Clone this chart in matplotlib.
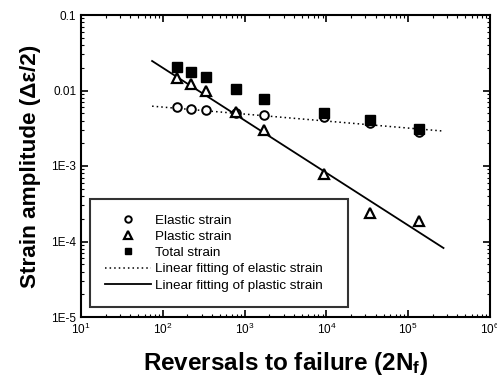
import matplotlib
matplotlib.use("Agg")
import matplotlib.pyplot as plt
from matplotlib.ticker import LogLocator, FixedLocator, FixedFormatter, NullFormatter

plt.rcParams['font.family'] = ['Liberation Sans', 'DejaVu Sans']
plt.rcParams['mathtext.default'] = 'regular'

# reversals to failure
reversals = [149, 221, 337, 785, 1726, 9350, 34100, 135000]
elastic = [0.0060, 0.0057, 0.0055, 0.0050, 0.0047, 0.0044, 0.0037, 0.0028]
plastic = [0.0147, 0.0122, 0.0098, 0.0052, 0.0030, 0.00078, 0.00024, 0.000186]
total = [0.0205, 0.0176, 0.0151, 0.0105, 0.0077, 0.0050, 0.0041, 0.0031]

# fitted lines (end points)
fit_x = [74, 270000]
elastic_fit = [0.0062, 0.0029]
plastic_fit = [0.0246, 0.000082]

y_ticks = [1e-5, 1e-4, 1e-3, 1e-2, 1e-1]
y_labels = ["1E-5", "1E-4", "1E-3", "0.01", "0.1"]

fig = plt.figure(figsize=(4.97, 3.79), dpi=100)
ax = fig.add_axes([81 / 497, 1 - 317 / 379, 409 / 497, 302 / 379])

ax.plot(reversals, elastic, 'o', mfc='white', mec='black', ms=6.2, mew=1.4,
        label="Elastic strain", zorder=3)
ax.plot(reversals, plastic, '^', mfc='white', mec='black', ms=7.5, mew=1.6,
        label="Plastic strain", zorder=3)
ax.plot(reversals, total, 's', color='black', ms=6.5, label="Total strain", zorder=4)
ax.plot(fit_x, elastic_fit, linestyle=(0, (1, 2)), color='black', lw=1.1,
        label="Linear fitting of elastic strain", zorder=2)
ax.plot(fit_x, plastic_fit, '-', color='black', lw=1.3,
        label="Linear fitting of plastic strain", zorder=2)

ax.set_xscale('log')
ax.set_yscale('log')
ax.set_xlim(10, 1e6)
ax.set_ylim(1e-5, 0.1)

ax.yaxis.set_major_locator(FixedLocator(y_ticks))
ax.yaxis.set_major_formatter(FixedFormatter(y_labels))
ax.yaxis.set_minor_locator(LogLocator(base=10, subs=range(2, 10), numticks=20))
ax.yaxis.set_minor_formatter(NullFormatter())
ax.xaxis.set_major_locator(LogLocator(base=10, numticks=10))
ax.xaxis.set_minor_locator(LogLocator(base=10, subs=range(2, 10), numticks=20))
ax.xaxis.set_minor_formatter(NullFormatter())

ax.tick_params(which='both', direction='in', top=True, right=True, labelsize=8.5)
ax.tick_params(which='major', length=5, width=1.2)
ax.tick_params(which='minor', length=2.5, width=0.8)
for s in ax.spines.values():
    s.set_linewidth(1.5)

ax.set_xlabel("Reversals to failure (2N$_f$)", fontsize=17.5, fontweight='bold', labelpad=9)
ax.set_ylabel("Strain amplitude (\u0394\u03b5/2)", fontsize=16.2, fontweight='bold', labelpad=7)

leg = ax.legend(loc='lower left', bbox_to_anchor=(0.022, 0.033, 0.631, 0.348),
                mode='expand', fontsize=9.7, markerscale=0.75,
                frameon=True, fancybox=False, edgecolor='black', borderpad=1.15,
                labelspacing=0.28, handlelength=3.4, handletextpad=0.25,
                borderaxespad=0)
leg.get_frame().set_linewidth(1.5)

fig.savefig("out.png", dpi=100)
